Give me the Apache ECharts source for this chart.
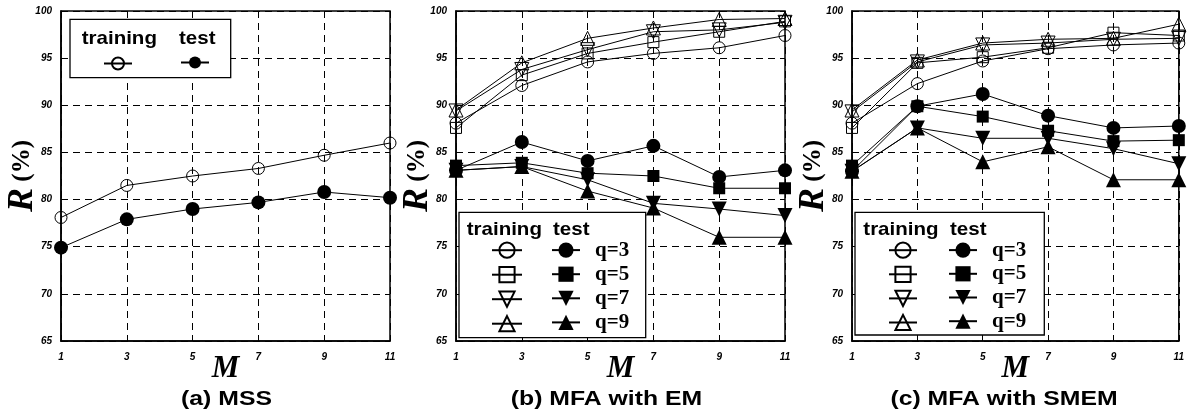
<!DOCTYPE html>
<html><head><meta charset="utf-8">
<script src="https://cdn.jsdelivr.net/npm/echarts@6/dist/echarts.min.js"></script>
<style>html,body{margin:0;padding:0;background:#fff}#c{width:1187px;height:418px}</style>
</head><body><div id="c"></div>
<script>
// ---------- data ----------
const M_VALUES = ['1', '3', '5', '7', '9', '11'];
const Y_MIN = 65, Y_MAX = 100, Y_STEP = 5;
const Q_LABELS = ['q=3', 'q=5', 'q=7', 'q=9'];
const CAPTIONS = ['(a) MSS', '(b) MFA with EM', '(c) MFA with SMEM'];

// (a) MSS
const mssTraining = [78.1, 81.5, 82.5, 83.3, 84.7, 86.0];
const mssTest     = [74.9, 77.9, 79.0, 79.7, 80.8, 80.2];

// (b) MFA with EM
const emTrainQ3 = [88.1, 92.1, 94.6, 95.5, 96.1, 97.4];
const emTrainQ5 = [87.6, 93.2, 95.5, 96.7, 97.8, 98.9];
const emTrainQ7 = [89.4, 93.8, 95.9, 97.8, 98.0, 98.8];
const emTrainQ9 = [89.5, 94.5, 97.1, 98.2, 99.1, 99.2];
const emTestQ3  = [83.1, 86.1, 84.1, 85.7, 82.4, 83.1];
const emTestQ5  = [83.6, 83.9, 82.8, 82.5, 81.2, 81.2];
const emTestQ7  = [83.1, 83.5, 82.1, 79.6, 79.0, 78.3];
const emTestQ9  = [83.1, 83.5, 80.9, 79.1, 76.0, 76.0];

// (c) MFA with SMEM
const smTrainQ3 = [88.1, 92.3, 94.7, 96.0, 96.4, 96.6];
const smTrainQ5 = [87.6, 94.5, 95.1, 96.1, 97.7, 97.4];
const smTrainQ7 = [89.3, 94.6, 96.4, 96.6, 97.0, 97.1];
const smTrainQ9 = [89.5, 94.8, 96.6, 97.0, 97.1, 98.6];
const smTestQ3  = [83.0, 89.9, 91.2, 88.9, 87.6, 87.8];
const smTestQ5  = [83.6, 89.9, 88.8, 87.3, 86.2, 86.3];
const smTestQ7  = [83.0, 87.6, 86.5, 86.5, 85.4, 83.8];
const smTestQ9  = [83.0, 87.6, 84.0, 85.6, 82.1, 82.1];

// ---------- styling / layout ----------
const SANS = '"Liberation Sans", Arial, sans-serif';
const SERIF = '"Liberation Serif", "Times New Roman", serif';
const GRIDS = [
  {left: 61, top: 11, width: 329, height: 330},
  {left: 456, top: 11, width: 329, height: 330},
  {left: 852, top: 11, width: 329, height: 330}
];
const CAPTION_X = [226.5, 606.5, 1004];
const CAPTION_Y = 399;

const SYMBOLS = [
  {symbol: 'circle', rot: 0, open: 12, fill: 14},
  {symbol: 'rect', rot: 0, open: 11, fill: 12},
  {symbol: 'triangle', rot: 180, open: 14, fill: 15},
  {symbol: 'triangle', rot: 0, open: 14, fill: 15}
];

function lineSeries(name, idx, data, sym, filled) {
  return {
    name, type: 'line', xAxisIndex: idx, yAxisIndex: idx, data,
    symbol: sym.symbol, symbolRotate: sym.rot,
    symbolSize: filled ? sym.fill : sym.open,
    itemStyle: filled ? {color: '#000', borderWidth: 0}
                      : {color: 'rgba(0,0,0,0)', borderColor: '#000', borderWidth: 1},
    lineStyle: {color: '#000', width: 1},
    emphasis: {disabled: true},
    animation: false
  };
}

const xAxes = [], yAxes = [], series = [], legends = [], graphics = [];
const dash = [7, 5];

GRIDS.forEach((g, i) => {
  xAxes.push({
    type: 'category', gridIndex: i, data: M_VALUES, boundaryGap: false,
    name: 'M', nameLocation: 'middle', nameGap: 12, nameMoveOverlap: false,
    nameTextStyle: {fontFamily: SERIF, fontStyle: 'italic', fontWeight: 'bold', fontSize: 31, color: '#000', lineHeight: 31},
    axisLine: {show: true, lineStyle: {color: '#000', width: 1.5}},
    axisTick: {show: true, inside: true, length: 4, lineStyle: {color: '#000'}},
    axisLabel: {interval: 0, margin: 11, color: '#000', fontFamily: SANS, fontStyle: 'italic', fontWeight: 'bold', fontSize: 10},
    splitLine: {show: true, lineStyle: {color: '#000', width: 1, type: dash}}
  });
  yAxes.push({
    type: 'value', gridIndex: i, min: Y_MIN, max: Y_MAX, interval: Y_STEP,
    name: '{i|R}{n| (%)}', nameLocation: 'middle', nameRotate: 90, nameGap: 20,
    nameMoveOverlap: false,
    nameTextStyle: {rich: {
      i: {fontFamily: SERIF, fontStyle: 'italic', fontWeight: 'bold', fontSize: 36, color: '#000'},
      n: {fontFamily: SERIF, fontWeight: 'bold', fontSize: 25, color: '#000'}
    }},
    axisLine: {show: true, lineStyle: {color: '#000', width: 1.5}},
    axisTick: {show: true, inside: true, length: 4, lineStyle: {color: '#000'}},
    axisLabel: {margin: 9, color: '#000', fontFamily: SANS, fontStyle: 'italic', fontWeight: 'bold', fontSize: 10},
    splitLine: {show: true, lineStyle: {color: '#000', width: 1, type: dash}}
  });
  graphics.push({
    type: 'text', x: CAPTION_X[i], y: CAPTION_Y, scaleX: 1.18, z: 10,
    style: {text: CAPTIONS[i], fill: '#000', font: 'bold 21px ' + SANS, textAlign: 'center', textVerticalAlign: 'middle'}
  });
});

// panel (a)
series.push(lineSeries('MSS training', 0, mssTraining, SYMBOLS[0], false));
series.push(lineSeries('MSS test', 0, mssTest, SYMBOLS[0], true));

const panelSets = [
  {idx: 1, prefix: 'EM', train: [emTrainQ3, emTrainQ5, emTrainQ7, emTrainQ9], test: [emTestQ3, emTestQ5, emTestQ7, emTestQ9]},
  {idx: 2, prefix: 'SMEM', train: [smTrainQ3, smTrainQ5, smTrainQ7, smTrainQ9], test: [smTestQ3, smTestQ5, smTestQ7, smTestQ9]}
];
panelSets.forEach(p => {
  p.train.forEach((d, k) => series.push(lineSeries(p.prefix + ' training ' + Q_LABELS[k], p.idx, d, SYMBOLS[k], false)));
  p.test.forEach((d, k) => series.push(lineSeries(p.prefix + ' test ' + Q_LABELS[k], p.idx, d, SYMBOLS[k], true)));
});

// ---------- legends ----------
function legendCol(names, left, top, itemWidth, itemHeight, gap, withText) {
  return {
    data: names, left, top, orient: 'vertical', padding: 0,
    itemWidth, itemHeight, itemGap: gap, z: 6,
    selectedMode: false,
    formatter: withText ? (n => n.split(' ').pop()) : (() => ''),
    textStyle: {fontFamily: SERIF, fontWeight: 'bold', fontSize: 21, lineHeight: itemHeight, color: '#000', padding: [0, 0, 0, 10]}
  };
}
// (a)
legends.push(legendCol(['MSS training'], 103, 56.5, 28, 15, 0, false));
legends.push(legendCol(['MSS test'], 180, 56.5, 28, 15, 0, false));
// (b)
legends.push(legendCol(Q_LABELS.map(q => 'EM training ' + q), 491, 241.6, 30, 19, 7.3, false));
legends.push(legendCol(Q_LABELS.map(q => 'EM test ' + q), 551, 239.6, 28, 19, 3.1, true));
// (c)
legends.push(legendCol(Q_LABELS.map(q => 'SMEM training ' + q), 888, 241.6, 28, 19, 6.9, false));
legends.push(legendCol(Q_LABELS.map(q => 'SMEM test ' + q), 948, 239.6, 28, 19, 2.7, true));

// legend boxes + headers
const boxes = [
  {x: 70, y: 19.3, w: 160.7, h: 58.4, tx: 81.7, sx: 179, ty: 38.3},
  {x: 459, y: 212.3, w: 186.7, h: 125.4, tx: 466.7, sx: 553, ty: 230},
  {x: 855, y: 212.3, w: 189.3, h: 122.7, tx: 863.3, sx: 950, ty: 230}
];
boxes.forEach(b => {
  graphics.push({type: 'rect', z: 3, shape: {x: b.x, y: b.y, width: b.w, height: b.h},
    style: {fill: '#fff', stroke: '#000', lineWidth: 1.3}});
  graphics.push({type: 'text', z: 7, x: b.tx, y: b.ty, scaleX: 1.08,
    style: {text: 'training', fill: '#000', font: 'bold 19px ' + SANS, textAlign: 'left', textVerticalAlign: 'middle'}});
  graphics.push({type: 'text', z: 7, x: b.sx, y: b.ty, scaleX: 1.08,
    style: {text: 'test', fill: '#000', font: 'bold 19px ' + SANS, textAlign: 'left', textVerticalAlign: 'middle'}});
});

const chart = echarts.init(document.getElementById('c'), null, {renderer: 'canvas'});
chart.setOption({
  backgroundColor: '#fff',
  animation: false,
  grid: GRIDS.map(g => Object.assign({show: true, borderColor: '#000', borderWidth: 1.5, backgroundColor: 'transparent', containLabel: false}, g)),
  xAxis: xAxes,
  yAxis: yAxes,
  legend: legends,
  series,
  graphic: graphics
});
</script>
</body></html>
